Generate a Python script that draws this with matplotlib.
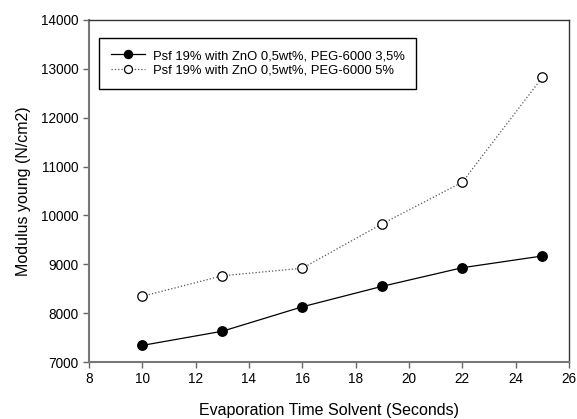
import numpy as np
import matplotlib
matplotlib.use('Agg')
import matplotlib.pyplot as plt

plt.rcParams['font.family'] = ['Liberation Sans', 'DejaVu Sans']

# evaporation time of the solvent (s) and measured Young's modulus
time_s = [10, 13, 16, 19, 22, 25]
peg35 = [7340, 7630, 8130, 8550, 8930, 9170]
peg5 = [8345, 8765, 8920, 9830, 10680, 12825]

labels = ['Psf 19% with ZnO 0,5wt%, PEG-6000 3,5%',
          'Psf 19% with ZnO 0,5wt%, PEG-6000 5%']

fig = plt.figure(figsize=(5.77, 4.19), dpi=100)
ax = fig.add_axes([0.1542, 0.1360, 0.8319, 0.8163])

ax.plot(time_s, peg35, '-', color='k', lw=0.9, marker='o', ms=6.8,
        mfc='k', mec='k', label=labels[0])
ax.plot(time_s, peg5, ':', color='#555555', lw=0.9, marker='o', ms=6.8,
        mfc='white', mec='k', mew=0.9, label=labels[1])

ax.set_xlim(8, 26)
ax.set_ylim(7000, 14000)
ax.set_xticks(np.arange(8, 27, 2))
ax.set_yticks(np.arange(7000, 14001, 1000))
ax.tick_params(direction='out', length=4, width=1, labelsize=9.8,
               color='#666666', top=False, right=False)

for side in ['left', 'bottom']:
    ax.spines[side].set_color('#777777')
    ax.spines[side].set_linewidth(1.5)
for side in ['top', 'right']:
    ax.spines[side].set_color('#333333')
    ax.spines[side].set_linewidth(1)

ax.set_xlabel('Evaporation Time Solvent (Seconds)', fontsize=11.5, labelpad=12)
ax.set_ylabel('Modulus young (N/cm2)', fontsize=11.5, labelpad=7)

leg = ax.legend(loc='upper left', bbox_to_anchor=(0.021, 0.947), fontsize=9.4,
                fancybox=False, edgecolor='k', framealpha=1, markerscale=0.85,
                handlelength=2.6, handletextpad=0.6, borderpad=0.9,
                borderaxespad=0, labelspacing=0.2)
leg.get_frame().set_linewidth(1)

fig.savefig('out.png', dpi=100)
